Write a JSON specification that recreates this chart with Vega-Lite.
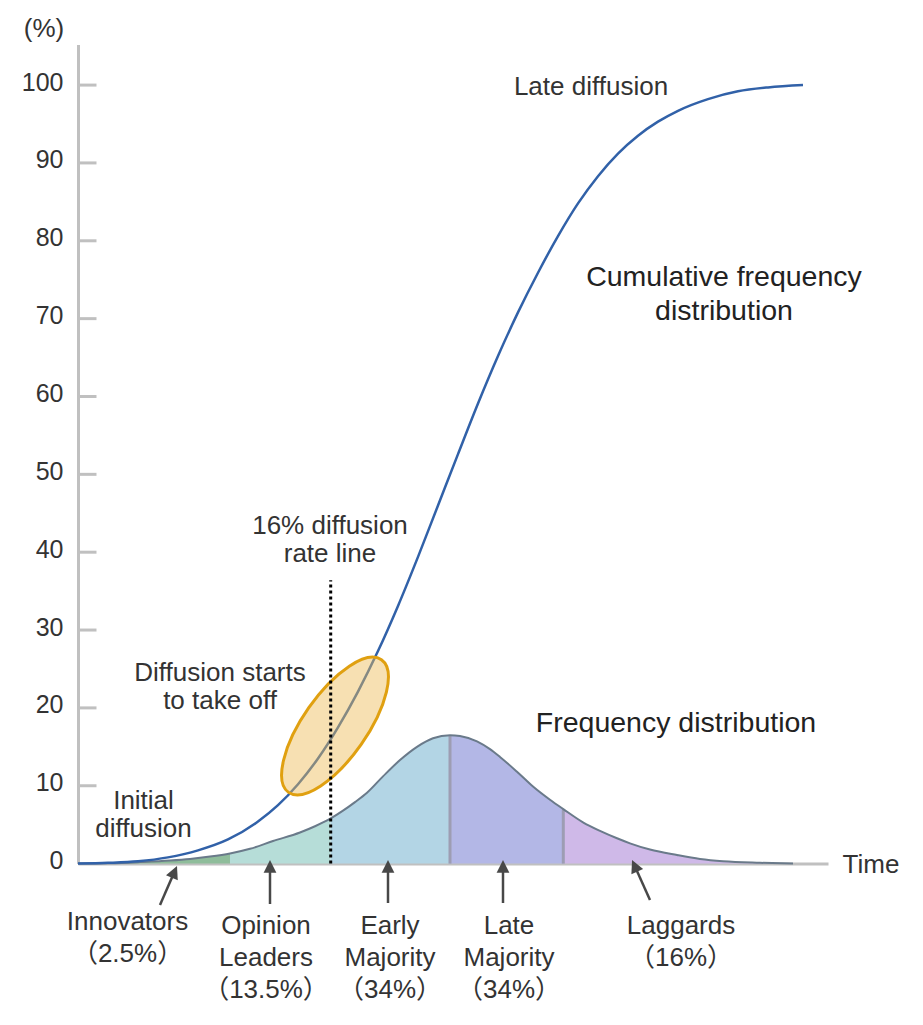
{
  "$schema": "https://vega.github.io/schema/vega-lite/v6.json",
  "width": 750,
  "height": 819,
  "autosize": {"type": "none"},
  "padding": {"left": 78, "top": 44.6, "right": 95, "bottom": 161.4},
  "background": "#ffffff",
  "config": {"view": {"stroke": null}, "font": "Liberation Sans"},
  "datasets": {
    "cum": [
      {"t": 0, "v": 0}, {"t": 30, "v": 0.1}, {"t": 60, "v": 0.3}, {"t": 90, "v": 0.8},
      {"t": 120, "v": 1.7}, {"t": 150, "v": 3.1}, {"t": 180, "v": 5.4}, {"t": 200, "v": 7.5},
      {"t": 220, "v": 10.2}, {"t": 240, "v": 13.5}, {"t": 260, "v": 17.5}, {"t": 280, "v": 22.1},
      {"t": 300, "v": 27.3}, {"t": 320, "v": 33.1}, {"t": 340, "v": 39.4}, {"t": 360, "v": 46.0},
      {"t": 380, "v": 52.6}, {"t": 400, "v": 59.1}, {"t": 420, "v": 65.2}, {"t": 440, "v": 70.8},
      {"t": 460, "v": 75.9}, {"t": 480, "v": 80.6}, {"t": 500, "v": 84.8}, {"t": 520, "v": 88.3},
      {"t": 540, "v": 91.2}, {"t": 560, "v": 93.5}, {"t": 580, "v": 95.3}, {"t": 600, "v": 96.7},
      {"t": 630, "v": 98.2}, {"t": 660, "v": 99.2}, {"t": 690, "v": 99.7}, {"t": 725, "v": 100}
    ],
    "freq": [
      {"t": 0, "v": 0, "seg": "Innovators"}, {"t": 32, "v": 0.05, "seg": "Innovators"},
      {"t": 62, "v": 0.2, "seg": "Innovators"}, {"t": 92, "v": 0.4, "seg": "Innovators"},
      {"t": 112, "v": 0.6, "seg": "Innovators"}, {"t": 132, "v": 0.9, "seg": "Innovators"},
      {"t": 152, "v": 1.3, "seg": "Innovators"},
      {"t": 152, "v": 1.3, "seg": "Opinion Leaders"}, {"t": 172, "v": 1.9, "seg": "Opinion Leaders"},
      {"t": 195, "v": 2.9, "seg": "Opinion Leaders"}, {"t": 222, "v": 4.0, "seg": "Opinion Leaders"},
      {"t": 237, "v": 4.8, "seg": "Opinion Leaders"}, {"t": 252.7, "v": 5.8, "seg": "Opinion Leaders"},
      {"t": 252.7, "v": 5.8, "seg": "Early Majority"}, {"t": 265, "v": 6.8, "seg": "Early Majority"},
      {"t": 277, "v": 7.9, "seg": "Early Majority"}, {"t": 289, "v": 9.1, "seg": "Early Majority"},
      {"t": 305, "v": 11.2, "seg": "Early Majority"}, {"t": 322, "v": 13.3, "seg": "Early Majority"},
      {"t": 339, "v": 15.0, "seg": "Early Majority"}, {"t": 355, "v": 16.1, "seg": "Early Majority"},
      {"t": 372, "v": 16.5, "seg": "Early Majority"},
      {"t": 372, "v": 16.5, "seg": "Late Majority"}, {"t": 382, "v": 16.4, "seg": "Late Majority"},
      {"t": 399, "v": 15.7, "seg": "Late Majority"}, {"t": 412, "v": 14.7, "seg": "Late Majority"},
      {"t": 422, "v": 13.7, "seg": "Late Majority"}, {"t": 439, "v": 11.8, "seg": "Late Majority"},
      {"t": 455, "v": 9.9, "seg": "Late Majority"}, {"t": 472, "v": 8.2, "seg": "Late Majority"},
      {"t": 485.3, "v": 7.0, "seg": "Late Majority"},
      {"t": 485.3, "v": 7.0, "seg": "Laggards"}, {"t": 505, "v": 5.3, "seg": "Laggards"},
      {"t": 522, "v": 4.2, "seg": "Laggards"}, {"t": 539, "v": 3.25, "seg": "Laggards"},
      {"t": 552, "v": 2.6, "seg": "Laggards"}, {"t": 572, "v": 1.8, "seg": "Laggards"},
      {"t": 599, "v": 1.1, "seg": "Laggards"}, {"t": 622, "v": 0.6, "seg": "Laggards"},
      {"t": 645, "v": 0.3, "seg": "Laggards"}, {"t": 682, "v": 0.1, "seg": "Laggards"},
      {"t": 715, "v": 0, "seg": "Laggards"}
    ],
    "bounds": [
      {"t": 372, "v": 0, "v2": 16.5},
      {"t": 485.3, "v": 0, "v2": 7.0}
    ],
    "dotted": [{"t": 252.7, "v": 0, "v2": 36.4}],
    "ticks": [
      {"t": 0, "v": 10}, {"t": 0, "v": 20}, {"t": 0, "v": 30}, {"t": 0, "v": 40}, {"t": 0, "v": 50},
      {"t": 0, "v": 60}, {"t": 0, "v": 70}, {"t": 0, "v": 80}, {"t": 0, "v": 90}, {"t": 0, "v": 100}
    ],
    "ellipse": [{"t": 257, "v": 17.67}],
    "arrows": [
      {"name": "Innovators", "kind": "ne", "t": 82, "v": -5.32, "t2": 95.8, "v2": -1.25},
      {"name": "Opinion Leaders", "kind": "up", "t": 192, "v": -5.19, "t2": 192, "v2": -0.57},
      {"name": "Early Majority", "kind": "up", "t": 310, "v": -5.06, "t2": 310, "v2": -0.57},
      {"name": "Late Majority", "kind": "up", "t": 425, "v": -5.06, "t2": 425, "v2": -0.57},
      {"name": "Laggards", "kind": "nw", "t": 572, "v": -4.67, "t2": 557.3, "v2": -0.48}
    ],
    "notes": [
      {"group": "a", "label": "(%)", "t": -34, "v": 106.2},
      {"group": "a", "label": "Late diffusion", "t": 513, "v": 98.7},
      {"group": "a", "label": "16% diffusion\nrate line", "t": 252, "v": 42.3},
      {"group": "a", "label": "Diffusion starts\nto take off", "t": 142, "v": 23.45},
      {"group": "a", "label": "Initial\ndiffusion", "t": 65.5, "v": 7.0},
      {"group": "a", "label": "Time", "t": 793, "v": -1.2},
      {"group": "h", "label": "Cumulative frequency\ndistribution", "t": 646, "v": 74.2},
      {"group": "h", "label": "Frequency distribution", "t": 598, "v": 16.94},
      {"group": "b", "label": "Innovators\n（2.5%）", "t": 49.5, "v": -8.52},
      {"group": "b", "label": "Opinion\nLeaders\n（13.5%）", "t": 188, "v": -9.1},
      {"group": "b", "label": "Early\nMajority\n（34%）", "t": 312, "v": -9.0},
      {"group": "b", "label": "Late\nMajority\n（34%）", "t": 431, "v": -9.0},
      {"group": "b", "label": "Laggards\n（16%）", "t": 603, "v": -9.0}
    ]
  },
  "encoding": {
    "x": {
      "field": "t", "type": "quantitative",
      "scale": {"domain": [0, 750], "nice": false, "zero": false},
      "axis": {"labels": false, "ticks": false, "title": null, "grid": false, "domainColor": "#c0c0c0", "domainWidth": 3}
    },
    "y": {
      "field": "v", "type": "quantitative", "stack": null,
      "scale": {"domain": [0, 105.2], "nice": false, "zero": false},
      "axis": {
        "values": [0, 10, 20, 30, 40, 50, 60, 70, 80, 90, 100],
        "title": null, "grid": false, "ticks": false, "labelPadding": 15,
        "labelFontSize": 25, "labelColor": "#333333", "labelFont": "Liberation Sans",
        "labelBaseline": "alphabetic", "labelOffset": 5, "labelFlush": false, "labelOverlap": false,
        "domainColor": "#c0c0c0", "domainWidth": 3
      }
    }
  },
  "layer": [
    {
      "data": {"values": [{}]},
      "mark": {"type": "rect", "color": "#efece2"},
      "encoding": {
        "x": {"datum": -78.5}, "x2": {"datum": -68},
        "y": {"datum": -21}, "y2": {"datum": 111}
      }
    },
    {
      "data": {"values": [{}]},
      "mark": {"type": "rect", "color": "#efece2"},
      "encoding": {
        "x": {"datum": -78.5}, "x2": {"datum": 846},
        "y": {"datum": 110.15}, "y2": {"datum": 111}
      }
    },
    {
      "data": {"name": "ticks"},
      "mark": {"type": "rule", "color": "#c0c0c0", "strokeWidth": 3},
      "encoding": {"x": {"datum": 0}, "x2": {"datum": 18.5}}
    },
    {
      "data": {"name": "freq"},
      "mark": {"type": "area", "interpolate": "monotone", "opacity": 1},
      "encoding": {
        "color": {
          "field": "seg", "type": "nominal", "legend": null,
          "scale": {
            "domain": ["Innovators", "Opinion Leaders", "Early Majority", "Late Majority", "Laggards"],
            "range": ["#8fbd9b", "#b6ddd8", "#b3d5e5", "#b3b7e6", "#cfb9e8"]
          }
        }
      }
    },
    {
      "data": {"name": "bounds"},
      "mark": {"type": "rule", "color": "#9d9db3", "strokeWidth": 3},
      "encoding": {"y2": {"field": "v2"}}
    },
    {
      "data": {"name": "freq"},
      "mark": {"type": "line", "interpolate": "monotone", "color": "#6a7a8a", "strokeWidth": 2}
    },
    {
      "data": {"name": "cum"},
      "mark": {"type": "line", "interpolate": "monotone", "color": "#3161a8", "strokeWidth": 2.5}
    },
    {
      "data": {"name": "ellipse"},
      "mark": {
        "type": "point",
        "shape": "M-1,0A1,0.395,0,1,0,1,0A1,0.395,0,1,0,-1,0Z",
        "size": 26244, "angle": 305, "filled": true,
        "fill": "#eebb55", "fillOpacity": 0.45, "stroke": "#e0a010", "strokeWidth": 3, "strokeOpacity": 1, "opacity": 1
      }
    },
    {
      "data": {"name": "dotted"},
      "mark": {"type": "rule", "color": "#000000", "strokeWidth": 3, "strokeDash": [3, 3]},
      "encoding": {"y2": {"field": "v2"}}
    },
    {
      "data": {"name": "arrows"},
      "mark": {"type": "rule", "color": "#484848", "strokeWidth": 2.5},
      "encoding": {"x2": {"field": "t2"}, "y2": {"field": "v2"}}
    },
    {
      "data": {"name": "arrows"},
      "transform": [{"filter": "datum.kind === 'up'"}],
      "mark": {"type": "point", "shape": "M0,-1L0.8,0.6L-0.8,0.6Z", "size": 256, "filled": true, "color": "#484848", "opacity": 1},
      "encoding": {"x": {"field": "t2", "type": "quantitative"}, "y": {"field": "v2", "type": "quantitative"}}
    },
    {
      "data": {"name": "arrows"},
      "transform": [{"filter": "datum.kind === 'ne'"}],
      "mark": {"type": "point", "shape": "M0,-1L0.8,0.6L-0.8,0.6Z", "size": 256, "angle": 23.5, "filled": true, "color": "#484848", "opacity": 1},
      "encoding": {"x": {"field": "t2", "type": "quantitative"}, "y": {"field": "v2", "type": "quantitative"}}
    },
    {
      "data": {"name": "arrows"},
      "transform": [{"filter": "datum.kind === 'nw'"}],
      "mark": {"type": "point", "shape": "M0,-1L0.8,0.6L-0.8,0.6Z", "size": 256, "angle": 336, "filled": true, "color": "#484848", "opacity": 1},
      "encoding": {"x": {"field": "t2", "type": "quantitative"}, "y": {"field": "v2", "type": "quantitative"}}
    },
    {
      "data": {"name": "notes"},
      "transform": [{"filter": "datum.group === 'a'"}],
      "mark": {"type": "text", "align": "center", "baseline": "alphabetic", "fontSize": 26, "lineHeight": 28, "lineBreak": "\n", "color": "#333333", "font": "Liberation Sans, Noto Sans CJK JP"},
      "encoding": {"text": {"field": "label"}}
    },
    {
      "data": {"name": "notes"},
      "transform": [{"filter": "datum.group === 'h'"}],
      "mark": {"type": "text", "align": "center", "baseline": "alphabetic", "fontSize": 28.5, "lineHeight": 34.5, "lineBreak": "\n", "color": "#222222", "font": "Liberation Sans, Noto Sans CJK JP"},
      "encoding": {"text": {"field": "label"}}
    },
    {
      "data": {"name": "notes"},
      "transform": [{"filter": "datum.group === 'b'"}],
      "mark": {"type": "text", "align": "center", "baseline": "alphabetic", "fontSize": 26, "lineHeight": 32, "lineBreak": "\n", "color": "#333333", "font": "Liberation Sans, Noto Sans CJK JP"},
      "encoding": {"text": {"field": "label"}}
    }
  ]
}
